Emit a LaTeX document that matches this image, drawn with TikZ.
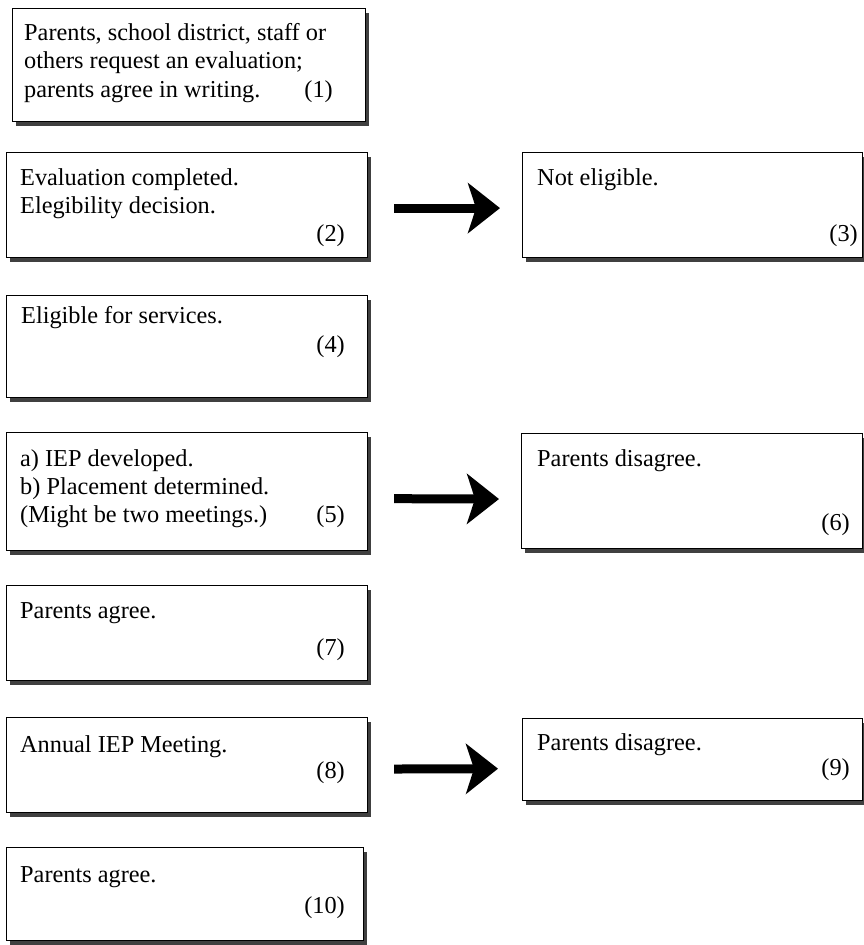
\documentclass[tikz,border=0pt]{standalone}
\usepackage{fontspec}
\setmainfont{Liberation Serif}
\usetikzlibrary{arrows.meta,shadows}
\begin{document}
\begin{tikzpicture}[x=1pt,y=-1pt,
  box/.style={draw=black, line width=1.2pt, fill=white, inner sep=0pt, anchor=north west,
    drop shadow={shadow xshift=3pt, shadow yshift=-4pt, fill=black!75, opacity=1}},
  txt/.style={anchor=base west, inner sep=0pt, font=\fontsize{24.3}{28}\selectfont},
  num/.style={anchor=base east, inner sep=0pt, font=\fontsize{24.3}{28}\selectfont},
  bigarrow/.style={line width=9pt, -{Stealth[length=32pt,width=50pt,inset=8pt]}}]
\useasboundingbox (0,0) rectangle (864,945);

% boxes
\node[box, minimum width=353pt, minimum height=113pt] (b1) at (12,8) {};
\node[box, minimum width=361pt, minimum height=105pt] (b2) at (6,152) {};
\node[box, minimum width=340pt, minimum height=105pt] (b3) at (522,152) {};
\node[box, minimum width=361pt, minimum height=102pt] (b4) at (6,295) {};
\node[box, minimum width=361pt, minimum height=118pt] (b5) at (6,432) {};
\node[box, minimum width=341pt, minimum height=115pt] (b6) at (521,433) {};
\node[box, minimum width=361pt, minimum height=95pt] (b7) at (6,585) {};
\node[box, minimum width=361pt, minimum height=95pt] (b8) at (6,717) {};
\node[box, minimum width=340pt, minimum height=82pt] (b9) at (522,718) {};
\node[box, minimum width=357pt, minimum height=93pt] (b10) at (6,847) {};

% texts
\node[txt] (t1a) at (24,40) {Parents, school district, staff or};
\node[txt] (t1b) at (24,68) {others request an evaluation;};
\node[txt] (t1c) at (24,97) {parents agree in writing.};
\node[num] (n1) at (333,97) {(1)};

\node[txt] (t2a) at (20,185) {Evaluation completed.};
\node[txt] (t2b) at (20,213) {Elegibility decision.};
\node[num] (n2) at (345,241) {(2)};

\node[txt] (t3a) at (537,185) {Not eligible.};
\node[num] (n3) at (858,241) {(3)};

\node[txt] (t4a) at (21,323) {Eligible for services.};
\node[num] (n4) at (345,352) {(4)};

\node[txt] (t5a) at (20,466) {a) IEP developed.};
\node[txt] (t5b) at (20,494) {b) Placement determined.};
\node[txt] (t5c) at (20,522) {(Might be two meetings.)};
\node[num] (n5) at (345,522) {(5)};

\node[txt] (t6a) at (537,466) {Parents disagree.};
\node[num] (n6) at (850,530) {(6)};

\node[txt] (t7a) at (20,618) {Parents agree.};
\node[num] (n7) at (345,655) {(7)};

\node[txt] (t8a) at (20,752) {Annual IEP Meeting.};
\node[num] (n8) at (345,778) {(8)};

\node[txt] (t9a) at (537,750) {Parents disagree.};
\node[num] (n9) at (850,775) {(9)};

\node[txt] (t10a) at (20,882) {Parents agree.};
\node[num] (n10) at (345,913) {(10)};

% arrows
\draw[bigarrow, shorten <=26pt, shorten >=22pt] ([yshift=-3pt]b2.east) -- ([yshift=-3pt]b3.west);
\draw[bigarrow, shorten <=26pt, shorten >=22pt] ([yshift=-7pt]b5.east) -- ([yshift=-8pt]b6.west);
\draw[bigarrow, shorten <=26pt, shorten >=24pt] ([yshift=-4pt]b8.east) -- ([yshift=-9pt]b9.west);
\end{tikzpicture}
\end{document}
